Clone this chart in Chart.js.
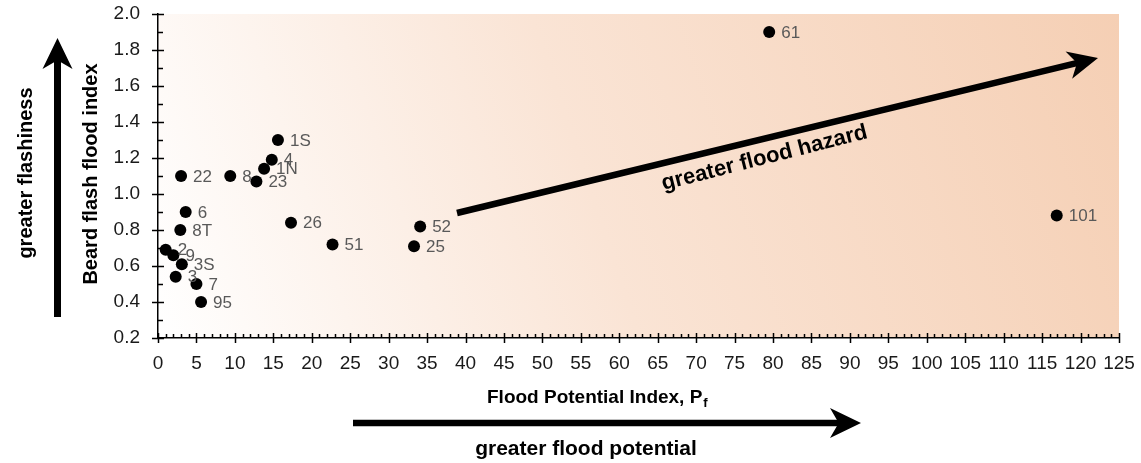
<!DOCTYPE html>
<html>
<head>
<meta charset="utf-8">
<script src="https://cdn.jsdelivr.net/npm/chart.js@4.4.1/dist/chart.umd.min.js"></script>
<style>
html, body { margin: 0; padding: 0; background: #fff; }
#wrap { width: 1141px; height: 463px; }
</style>
</head>
<body>
<div id="wrap"><canvas id="flood-chart" width="1141" height="463"></canvas></div>
<script>
// site labels and values
const siteLabels = ['61', '101', '52', '25', '51', '1S', '4', '1N', '23', '8', '22', '6', '8T', '26', '2', '9', '3S', '3', '7', '95'];
const floodPotential = [79.5, 116.9, 34.1, 33.3, 22.7, 15.6, 14.8, 13.8, 12.8, 9.4, 3.0, 3.6, 2.9, 17.3, 1.0, 2.0, 3.1, 2.3, 5.0, 5.6];
const beardIndex = [1.90, 0.88, 0.82, 0.71, 0.72, 1.30, 1.19, 1.14, 1.07, 1.10, 1.10, 0.90, 0.80, 0.84, 0.69, 0.66, 0.61, 0.54, 0.50, 0.40];

const xRange = [0, 125];
const xMajor = 5;
const xMinor = 1;
const yRange = [0.2, 2.0];
const yMajor = 0.2;
const yMinor = 0.1;

const FONT = '"Liberation Sans", Arial, sans-serif';

const plotBackground = {
	id: 'plotBackground',
	beforeDraw(chart) {
		const {ctx, chartArea: a} = chart;
		const g = ctx.createLinearGradient(a.left, a.bottom, a.right, a.top);
		g.addColorStop(0, '#ffffff');
		g.addColorStop(0.45, '#fae4d5');
		g.addColorStop(1, '#f5cfb4');
		ctx.save();
		ctx.fillStyle = g;
		ctx.fillRect(a.left, a.top, a.right - a.left, a.bottom - a.top);
		ctx.restore();
	}
};

const pointLabels = {
	id: 'pointLabels',
	afterDatasetsDraw(chart) {
		const ctx = chart.ctx;
		const meta = chart.getDatasetMeta(0);
		ctx.save();
		ctx.font = '17px ' + FONT;
		ctx.fillStyle = '#595959';
		ctx.textAlign = 'left';
		ctx.textBaseline = 'middle';
		meta.data.forEach((el, i) => {
			ctx.fillText(siteLabels[i], el.x + 12, el.y + 1);
		});
		ctx.restore();
	}
};

function drawArrow(ctx, x1, y1, x2, y2, width, headLen, headHalf) {
	const ang = Math.atan2(y2 - y1, x2 - x1);
	const len = Math.hypot(x2 - x1, y2 - y1);
	ctx.save();
	ctx.translate(x2, y2);
	ctx.rotate(ang);
	ctx.fillStyle = '#000';
	ctx.fillRect(-len, -width / 2, len - headLen * 0.7, width);
	ctx.beginPath();
	ctx.moveTo(0, 0);
	ctx.lineTo(-headLen, -headHalf);
	ctx.lineTo(-headLen * 0.72, 0);
	ctx.lineTo(-headLen, headHalf);
	ctx.closePath();
	ctx.fill();
	ctx.restore();
}

const decorations = {
	id: 'decorations',
	afterDraw(chart) {
		const ctx = chart.ctx;
		const xs = chart.scales.x;
		const ys = chart.scales.y;

		// tick marks
		ctx.save();
		ctx.strokeStyle = '#000';
		ctx.lineWidth = 1.5;
		ctx.beginPath();
		for (let v = xRange[0]; v <= xRange[1] + 1e-9; v += xMinor) {
			const px = Math.round(xs.getPixelForValue(v)) + 0.5;
			const major = Math.abs(v / xMajor - Math.round(v / xMajor)) < 1e-6;
			ctx.moveTo(px, xs.top + (major ? 5 : 0));
			ctx.lineTo(px, xs.top - (major ? 5 : 4));
		}
		for (let v = yRange[0]; v <= yRange[1] + 1e-9; v += yMinor) {
			const py = Math.round(ys.getPixelForValue(v)) + 0.5;
			const major = Math.abs((v - yRange[0]) / yMajor - Math.round((v - yRange[0]) / yMajor)) < 1e-6;
			ctx.moveTo(ys.right - (major ? 6 : 0), py);
			ctx.lineTo(ys.right + (major ? 6 : 5), py);
		}
		ctx.stroke();
		ctx.restore();

		// arrows
		drawArrow(ctx, 57.5, 317, 57.5, 38, 7, 31, 15);
		drawArrow(ctx, 353, 423, 861, 423, 6.5, 31, 15);
		drawArrow(ctx, 457, 213, 1098, 58, 6.5, 30, 14);

		// texts
		ctx.save();
		ctx.fillStyle = '#000';
		ctx.textAlign = 'center';
		ctx.textBaseline = 'alphabetic';

		ctx.font = 'bold 20px ' + FONT;
		ctx.save();
		ctx.translate(32, 173);
		ctx.rotate(-Math.PI / 2);
		ctx.fillText('greater flashiness', 0, 0);
		ctx.restore();

		ctx.save();
		ctx.translate(97, 174);
		ctx.rotate(-Math.PI / 2);
		ctx.fillText('Beard flash flood index', 0, 0);
		ctx.restore();

		ctx.font = 'bold 22px ' + FONT;
		ctx.save();
		ctx.translate(766, 164);
		ctx.rotate(-14.3 * Math.PI / 180);
		ctx.fillText('greater flood hazard', 0, 0);
		ctx.restore();

		ctx.font = 'bold 21px ' + FONT;
		ctx.fillText('greater flood potential', 586, 455);

		ctx.textAlign = 'left';
		ctx.font = 'bold 19px ' + FONT;
		const main = 'Flood Potential Index, P';
		ctx.fillText(main, 487, 403);
		const w = ctx.measureText(main).width;
		ctx.font = 'bold 13px ' + FONT;
		ctx.fillText('f', 487 + w + 1, 407);
		ctx.restore();
	}
};

const tickFont = { family: FONT, size: 19 };

const floodChart = new Chart(document.getElementById('flood-chart'), {
	type: 'scatter',
	data: {
		datasets: [{
			data: floodPotential.map((v, i) => ({ x: v, y: beardIndex[i] })),
			pointRadius: 6,
			pointHoverRadius: 6,
			backgroundColor: '#000',
			borderWidth: 0
		}]
	},
	options: {
		responsive: false,
		animation: false,
		events: [],
		layout: { padding: { top: 14, right: 22, left: 0, bottom: 0 } },
		plugins: {
			legend: { display: false },
			tooltip: { enabled: false }
		},
		scales: {
			x: {
				type: 'linear',
				min: xRange[0],
				max: xRange[1],
				ticks: { stepSize: xMajor, font: tickFont, color: '#1a1a1a', padding: 14, maxRotation: 0, autoSkip: false },
				grid: { display: false, drawTicks: false },
				border: { color: '#000', width: 1.5 },
				afterFit(s) {
					s.height = 125;
					s.paddingLeft = 0;
					s.paddingRight = 0;
				}
			},
			y: {
				type: 'linear',
				min: yRange[0],
				max: yRange[1],
				ticks: { stepSize: yMajor, font: tickFont, color: '#1a1a1a', padding: 18, callback: v => v.toFixed(1) },
				grid: { display: false, drawTicks: false },
				border: { color: '#000', width: 1.5 },
				afterFit(s) {
					s.width = 158;
					s.paddingTop = 0;
					s.paddingBottom = 0;
				}
			}
		}
	},
	plugins: [plotBackground, pointLabels, decorations]
});
</script>
</body>
</html>
